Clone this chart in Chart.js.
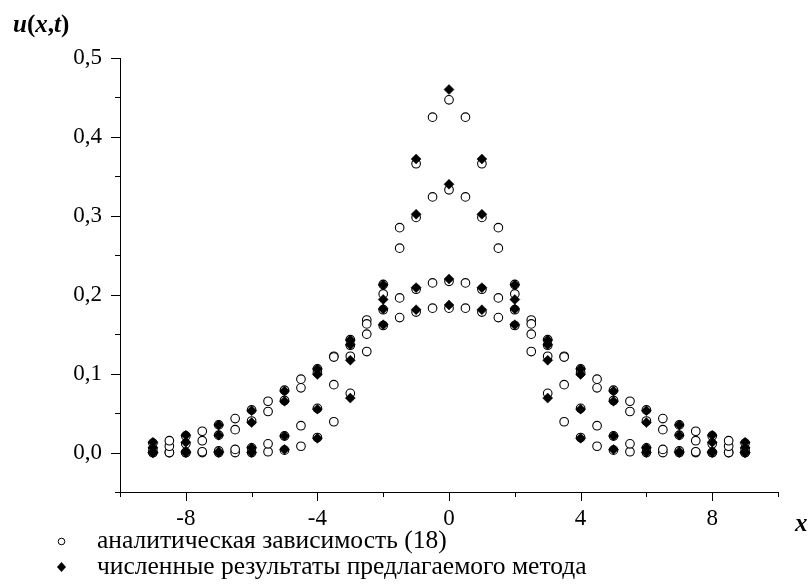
<!DOCTYPE html>
<html>
<head>
<meta charset="utf-8">
<script src="https://cdn.jsdelivr.net/npm/chart.js@4.4.0/dist/chart.umd.min.js"></script>
<style>
  html, body { margin: 0; padding: 0; background: #fff; }
  #wrap { width: 811px; height: 585px; }
</style>
</head>
<body>
<div id="wrap"><canvas id="chart" width="811" height="585"></canvas></div>
<script>
// x positions: analytic solution every 0.5, numerical method every 1
const xAnalytic = [-9, -8.5, -8, -7.5, -7, -6.5, -6, -5.5, -5, -4.5, -4, -3.5, -3, -2.5, -2, -1.5, -1, -0.5,
  0, 0.5, 1, 1.5, 2, 2.5, 3, 3.5, 4, 4.5, 5, 5.5, 6, 6.5, 7, 7.5, 8, 8.5, 9];
const xNumeric = [-9, -8, -7, -6, -5, -4, -3, -2, -1, 0, 1, 2, 3, 4, 5, 6, 7, 8, 9];

// analytic (18), four time moments
const analyticT1 = [0, 0, 0, 0, 0, 0, 0, 0.001, 0.003, 0.008, 0.019, 0.039, 0.075, 0.128, 0.201, 0.285, 0.366, 0.425,
  0.447, 0.425, 0.366, 0.285, 0.201, 0.128, 0.075, 0.039, 0.019, 0.008, 0.003, 0.001, 0, 0, 0, 0, 0, 0, 0];
const analyticT2 = [0, 0, 0, 0.001, 0.002, 0.004, 0.006, 0.011, 0.021, 0.034, 0.056, 0.086, 0.122, 0.168, 0.213, 0.259, 0.298, 0.324,
  0.333, 0.324, 0.298, 0.259, 0.213, 0.168, 0.122, 0.086, 0.056, 0.034, 0.021, 0.011, 0.006, 0.004, 0.002, 0.001, 0, 0, 0];
const analyticT3 = [0.005, 0.008, 0.011, 0.015, 0.022, 0.029, 0.040, 0.052, 0.066, 0.082, 0.101, 0.122, 0.143, 0.163, 0.181, 0.196, 0.207, 0.215,
  0.217, 0.215, 0.207, 0.196, 0.181, 0.163, 0.143, 0.122, 0.101, 0.082, 0.066, 0.052, 0.040, 0.029, 0.022, 0.015, 0.011, 0.008, 0.005];
const analyticT4 = [0.012, 0.015, 0.021, 0.027, 0.035, 0.043, 0.054, 0.065, 0.079, 0.093, 0.106, 0.121, 0.136, 0.150, 0.161, 0.171, 0.178, 0.183,
  0.183, 0.183, 0.178, 0.171, 0.161, 0.150, 0.136, 0.121, 0.106, 0.093, 0.079, 0.065, 0.054, 0.043, 0.035, 0.027, 0.021, 0.015, 0.012];

// numerical results of the proposed method
const numericT1 = [0, 0, 0, 0, 0.004, 0.018, 0.069, 0.194, 0.372, 0.460, 0.372, 0.194, 0.069, 0.018, 0.004, 0, 0, 0, 0];
const numericT2 = [0, 0.001, 0.001, 0.006, 0.021, 0.055, 0.117, 0.2125, 0.302, 0.340, 0.302, 0.2125, 0.117, 0.055, 0.021, 0.006, 0.001, 0.001, 0];
const numericT3 = [0.006, 0.013, 0.022, 0.038, 0.065, 0.099, 0.1425, 0.182, 0.209, 0.220, 0.209, 0.182, 0.1425, 0.099, 0.065, 0.038, 0.022, 0.013, 0.006];
const numericT4 = [0.013, 0.022, 0.035, 0.053, 0.078, 0.106, 0.1365, 0.162, 0.181, 0.187, 0.181, 0.162, 0.1365, 0.106, 0.078, 0.053, 0.035, 0.022, 0.013];

const legendLabels = ['аналитическая зависимость (18)', 'численные результаты предлагаемого метода'];

function toPoints(xs, series) {
  const pts = [];
  series.forEach(ys => ys.forEach((y, i) => pts.push({ x: xs[i], y: y })));
  return pts;
}

function isMajorY(v) {
  return v > -0.01 && Math.abs(v * 10 - Math.round(v * 10)) < 1e-6;
}

const SERIF = '"Liberation Serif", "Times New Roman", serif';

// ticks, axis titles and legend drawn by hand (minor/major tick marks like the original)
const extras = {
  id: 'extras',
  afterDraw(chart) {
    const ctx = chart.ctx;
    const xs = chart.scales.x, ys = chart.scales.y;
    const area = chart.chartArea;
    ctx.save();
    ctx.strokeStyle = '#000';
    ctx.lineWidth = 1;
    ctx.beginPath();
    xs.ticks.forEach(t => {
      const px = Math.round(xs.getPixelForValue(t.value)) + 0.5;
      const len = (t.value % 4 === 0) ? 9 : 5;
      ctx.moveTo(px, area.bottom);
      ctx.lineTo(px, area.bottom + len);
    });
    ys.ticks.forEach(t => {
      const py = Math.round(ys.getPixelForValue(t.value)) + 0.5;
      const len = isMajorY(t.value) ? 9 : 5;
      ctx.moveTo(area.left, py);
      ctx.lineTo(area.left - len, py);
    });
    ctx.stroke();

    // u(x,t)
    ctx.fillStyle = '#000';
    ctx.textBaseline = 'alphabetic';
    let cx = 13;
    const parts = [['u', 'italic bold'], ['(', 'bold'], ['x', 'italic bold'], [',', 'bold'], ['t', 'italic bold'], [')', 'bold']];
    parts.forEach(p => {
      ctx.font = p[1] + ' 25px ' + SERIF;
      ctx.fillText(p[0], cx, 32);
      cx += ctx.measureText(p[0]).width;
    });
    // x
    ctx.font = 'italic bold 25px ' + SERIF;
    ctx.fillText('x', 795, 531);

    // legend
    ctx.font = '25.5px ' + SERIF;
    ctx.textBaseline = 'middle';
    ctx.fillText(legendLabels[0], 97, 541);
    ctx.fillText(legendLabels[1], 97, 567);
    ctx.beginPath();
    ctx.arc(61.5, 541.5, 3.3, 0, Math.PI * 2);
    ctx.lineWidth = 1;
    ctx.stroke();
    ctx.beginPath();
    ctx.moveTo(61.5, 562); ctx.lineTo(66, 567); ctx.lineTo(61.5, 572); ctx.lineTo(57, 567);
    ctx.closePath();
    ctx.fill();
    ctx.restore();
  }
};

Chart.defaults.color = '#000';
Chart.defaults.font.family = SERIF;

new Chart(document.getElementById('chart'), {
  type: 'scatter',
  data: {
    datasets: [
      {
        label: legendLabels[1],
        data: toPoints(xNumeric, [numericT1, numericT2, numericT3, numericT4]),
        pointStyle: 'rectRot',
        pointRadius: 5,
        backgroundColor: '#000',
        borderColor: '#000',
        borderWidth: 0.5
      },
      {
        label: legendLabels[0],
        data: toPoints(xAnalytic, [analyticT1, analyticT2, analyticT3, analyticT4]),
        pointStyle: 'circle',
        pointRadius: 4.3,
        backgroundColor: '#fff',
        borderColor: '#000',
        borderWidth: 1.1
      }
    ]
  },
  options: {
    responsive: false,
    animation: false,
    layout: { padding: { top: 58, right: 33, left: 0, bottom: 0 } },
    plugins: { legend: { display: false }, tooltip: { enabled: false } },
    scales: {
      x: {
        type: 'linear',
        min: -10, max: 10,
        grid: { display: false, drawTicks: false },
        border: { display: true, color: '#000', width: 1 },
        ticks: {
          stepSize: 2,
          autoSkip: false,
          maxRotation: 0,
          padding: 13,
          font: { size: 23 },
          callback: v => (v % 4 === 0 ? String(v) : '')
        },
        afterFit: s => { s.height = 93; }
      },
      y: {
        min: -0.05, max: 0.5,
        grid: { display: false, drawTicks: false },
        border: { display: true, color: '#000', width: 1 },
        ticks: {
          stepSize: 0.05,
          autoSkip: false,
          padding: 18,
          font: { size: 23 },
          callback: v => (isMajorY(v) ? v.toFixed(1).replace('.', ',') : '')
        },
        afterFit: s => { s.width = 120; }
      }
    }
  },
  plugins: [extras]
});
</script>
</body>
</html>
